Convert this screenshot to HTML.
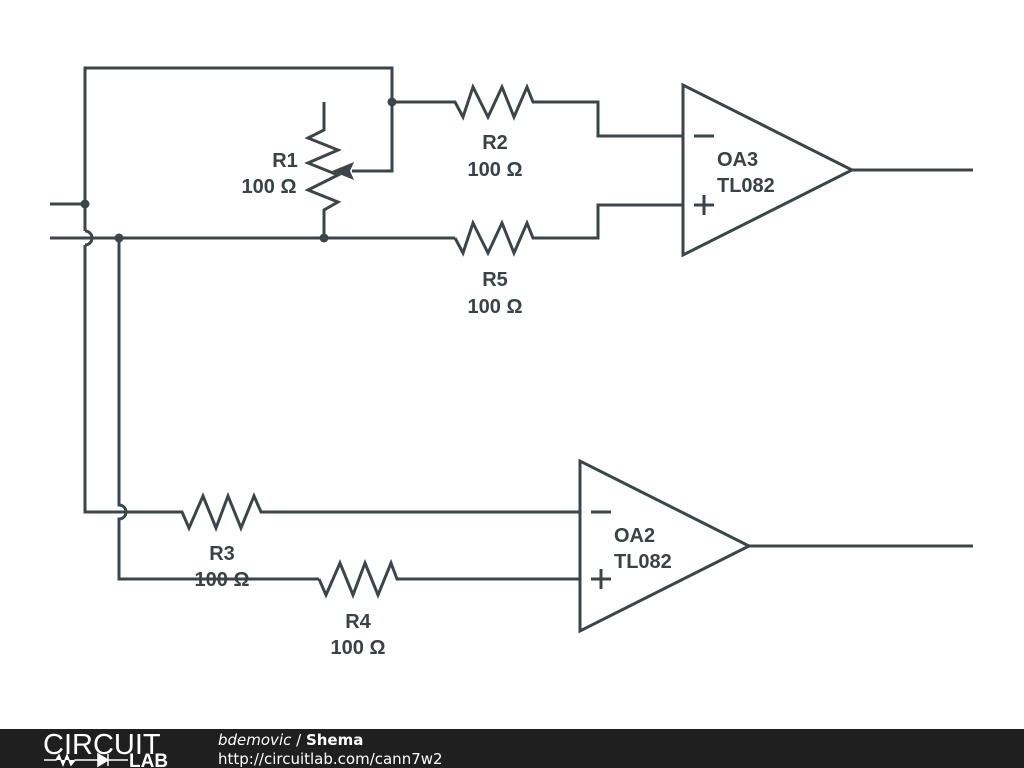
<!DOCTYPE html>
<html><head><meta charset="utf-8"><style>
body{margin:0;width:1024px;height:768px;background:#fff;overflow:hidden}
svg{display:block}
text{font-family:"Liberation Sans",sans-serif;font-weight:bold;font-size:20px;fill:#3a4245}
</style></head><body>
<svg width="1024" height="768" viewBox="0 0 1024 768">
<g fill="none" stroke="#3d4548" stroke-width="3" stroke-linejoin="miter">
<path d="M85 231 V68 H392 V171 H352"/>
<path d="M50 204 H85"/>
<path d="M85 245 V512 H112"/>
<path d="M85 231 A7 7 0 0 1 85 245"/>
<path d="M50 238 H455"/>
<path d="M324 102 V130 L308 138 L338 150 L308 163 L338 175 L308 190 L338 202 L324 210 V238"/>
<path d="M392 102 H455 L463 117 L473 87 L488 117 L502 87 L514 117 L527 87 L533 102 H598 V136 H683"/>
<path d="M455 238 L463 253 L473 223 L488 253 L502 223 L514 253 L527 223 L533 238 H598 V205 H683"/>
<path d="M683 85 V255 L852 170 Z"/>
<path d="M852 170 H973"/>
<path d="M694 136 H714 M694 205 H714 M704 195 V215"/>
<path d="M119 238 V505 A7 7 0 0 1 119 519 V579 H319"/>
<path d="M112 512 H182 L189 528 L203 496 L216 528 L228 496 L241 528 L254 496 L261 512 H580"/>
<path d="M319 579 L326 595 L340 563 L353 595 L365 563 L378 595 L391 563 L397 579 H580"/>
<path d="M580 461 V631 L749 546 Z"/>
<path d="M749 546 H973"/>
<path d="M591 512 H611 M591 579 H611 M601 569 V589"/>
</g>
<polygon points="332,171 354,162 350,171 354,180" fill="#3d4548"/>
<g fill="#3d4548">
<circle cx="392" cy="102" r="4.5"/><circle cx="85" cy="204" r="4.5"/>
<circle cx="119" cy="238" r="4.5"/><circle cx="324" cy="238" r="4.5"/>
</g>
<text x="285" y="167" text-anchor="middle">R1</text>
<text x="269" y="193" text-anchor="middle">100 Ω</text>
<text x="495" y="149" text-anchor="middle">R2</text>
<text x="495" y="176" text-anchor="middle">100 Ω</text>
<text x="495" y="286" text-anchor="middle">R5</text>
<text x="495" y="313" text-anchor="middle">100 Ω</text>
<text x="717" y="166">OA3</text>
<text x="717" y="192">TL082</text>
<text x="222" y="560" text-anchor="middle">R3</text>
<text x="222" y="586" text-anchor="middle">100 Ω</text>
<text x="358" y="628" text-anchor="middle">R4</text>
<text x="358" y="654" text-anchor="middle">100 Ω</text>
<text x="614" y="542">OA2</text>
<text x="614" y="568">TL082</text>
<rect x="0" y="729" width="1024" height="39" fill="#1f1f1f"/>
<text x="43" y="754" style="font-weight:normal;font-size:29px;fill:#fff">CIRCUIT</text>
<path d="M44 760 H56 L59 755 L63 765 L67 755 L71 765 L75 760 H98 M98 754 V766 L108 760 Z M108 754 V766 M108 760 H128" stroke="#fff" stroke-width="1.5" fill="#fff"/>
<text x="129" y="767" style="font-size:19px;fill:#fff">LAB</text>
<text x="218" y="745" style="font-family:'DejaVu Sans',sans-serif;font-size:15px;fill:#fff;font-weight:normal"><tspan font-style="italic">bdemovic</tspan> / <tspan font-weight="bold">Shema</tspan></text>
<text x="218" y="764" style="font-family:'DejaVu Sans',sans-serif;font-size:15px;fill:#fff;font-weight:normal">http://circuitlab.com/cann7w2</text>
</svg>
</body></html>
